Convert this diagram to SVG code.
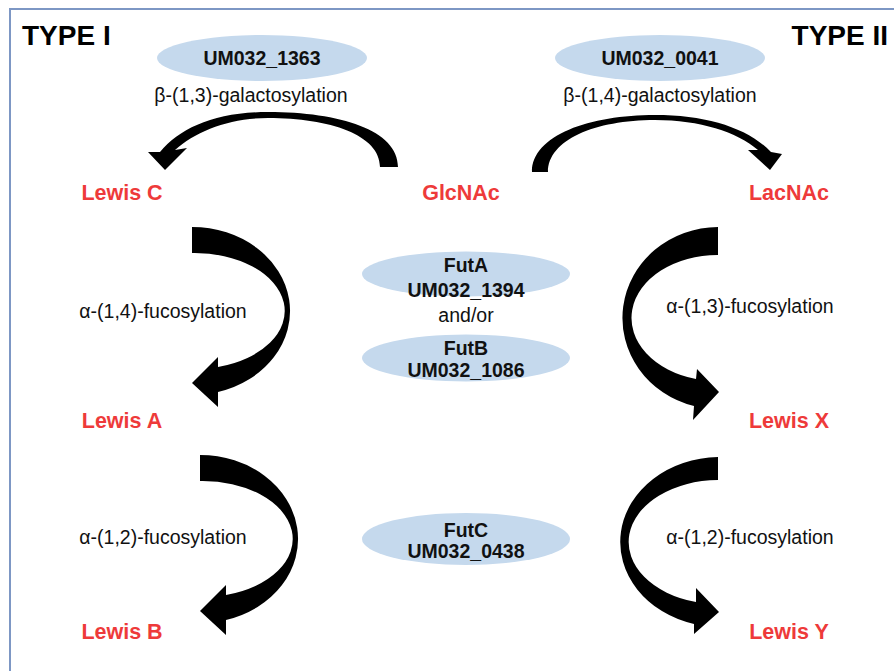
<svg xmlns="http://www.w3.org/2000/svg" width="894" height="671" viewBox="0 0 894 671">
<style>
.title{font-family:"Liberation Sans",Arial,sans-serif;font-weight:bold;font-size:28px;fill:#000}
.sugar{font-family:"Liberation Sans",Arial,sans-serif;font-weight:bold;font-size:21.5px;fill:#ee3a3a;text-anchor:middle}
.enz{font-family:"Liberation Sans",Arial,sans-serif;font-weight:bold;font-size:19.5px;fill:#111;text-anchor:middle}
.lbl{font-family:"Liberation Sans",Arial,sans-serif;font-size:19.5px;fill:#111;text-anchor:middle}
.ell{fill:#c5d9ed}
.arrow{fill:#000}
</style>
<rect x="0" y="0" width="894" height="671" fill="#fff"/>
<rect x="10" y="9" width="900" height="700" fill="none" stroke="#7d97c4" stroke-width="2"/>
<text class="title" x="22" y="45">TYPE I</text>
<text class="title" x="888" y="45" text-anchor="end">TYPE II</text>

<g id="enzyme-UM032_1363"><ellipse class="ell" cx="262" cy="58" rx="105" ry="23"/><text class="enz" x="262" y="65">UM032_1363</text></g>
<g id="enzyme-UM032_0041"><ellipse class="ell" cx="660" cy="58" rx="105" ry="23"/><text class="enz" x="660" y="65">UM032_0041</text></g>
<g id="enzyme-FutA"><ellipse class="ell" cx="466" cy="274" rx="104" ry="22.5"/><text class="enz" x="466" y="272">FutA</text><text class="enz" x="466" y="297">UM032_1394</text></g>
<text class="lbl" x="466" y="322">and/or</text>
<g id="enzyme-FutB"><ellipse class="ell" cx="466" cy="358" rx="104" ry="23.5"/><text class="enz" x="466" y="355">FutB</text><text class="enz" x="466" y="377">UM032_1086</text></g>
<g id="enzyme-FutC"><ellipse class="ell" cx="466" cy="539" rx="104" ry="26"/><text class="enz" x="466" y="537">FutC</text><text class="enz" x="466" y="558">UM032_0438</text></g>

<g id="node-LewisC"><text class="sugar" x="122" y="200">Lewis C</text></g>
<g id="node-GlcNAc"><text class="sugar" x="461" y="200">GlcNAc</text></g>
<g id="node-LacNAc"><text class="sugar" x="789" y="200">LacNAc</text></g>
<g id="node-LewisA"><text class="sugar" x="122" y="428">Lewis A</text></g>
<g id="node-LewisX"><text class="sugar" x="789" y="428">Lewis X</text></g>
<g id="node-LewisB"><text class="sugar" x="122" y="639">Lewis B</text></g>
<g id="node-LewisY"><text class="sugar" x="789" y="639">Lewis Y</text></g>

<g id="connectors">
<path class="arrow" d="M398,167 C398,130 340,112 268,112 C215,112 180,128 160,152 L148,152 L165,170 L187,148 L175,150 C196,131 230,118 268,118 C330,118 380,135 380,167 Z"/>
<path class="arrow" d="M532,172 C532,135 590,115 655,115 C707,115 748,128 771,152 L782,154 L770,170 L748,150 L758,150 C737,132 700,120 655,120 C595,120 548,140 548,172 Z"/>
<path class="arrow" d="M192,227 A98,84 0 0 1 218,392 L218,407 L192,383 L218,357 L218,367 A90,58 0 0 0 192,253 Z"/>
<path class="arrow" transform="translate(8,228)" d="M192,227 A98,84 0 0 1 218,392 L218,407 L192,383 L218,357 L218,367 A90,58 0 0 0 192,253 Z"/>
<path class="arrow" d="M718,227 A96,91 0 0 0 694,406 L693,420 L719,392 L697,369 L696,379 A86,63 0 0 1 718,255 Z"/>
<path class="arrow" d="M718,457 A100,85 0 0 0 694,624 L694,634 L719,612 L696,588 L696,602 A90,62 0 0 1 718,480 Z"/>
<text class="lbl" x="251" y="102">β-(1,3)-galactosylation</text>
<text class="lbl" x="660" y="102">β-(1,4)-galactosylation</text>
<text class="lbl" x="163" y="318">α-(1,4)-fucosylation</text>
<text class="lbl" x="750" y="313">α-(1,3)-fucosylation</text>
<text class="lbl" x="163" y="544">α-(1,2)-fucosylation</text>
<text class="lbl" x="750" y="544">α-(1,2)-fucosylation</text>
</g>
</svg>
